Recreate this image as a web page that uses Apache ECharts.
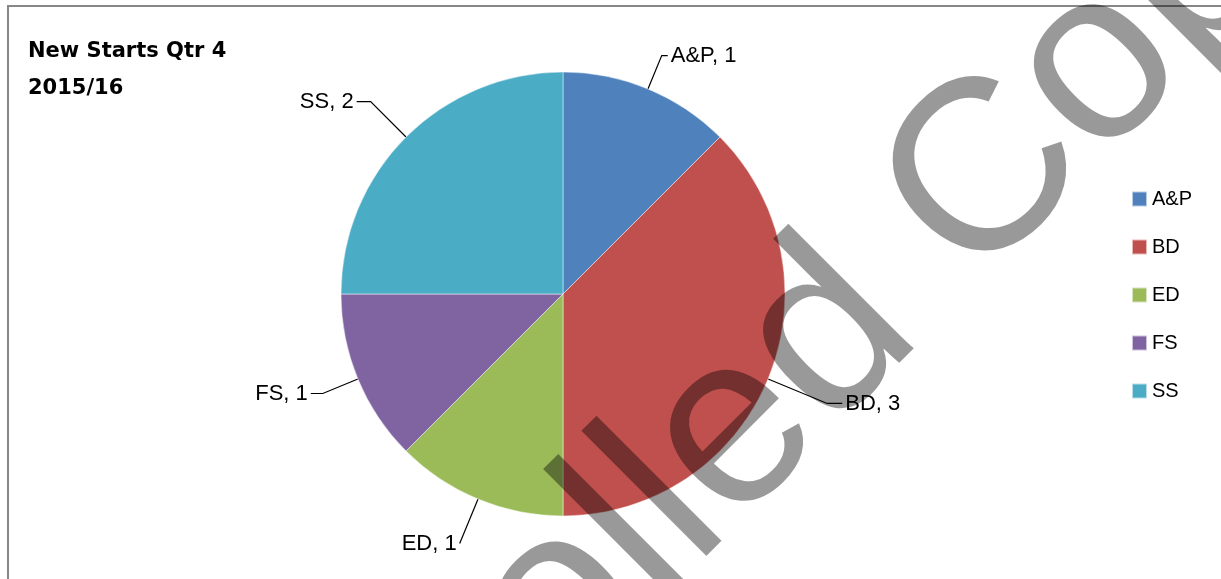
<!DOCTYPE html>
<html>
<head>
<meta charset="utf-8">
<script src="https://cdn.jsdelivr.net/npm/echarts@6/dist/echarts.min.js"></script>
<style>
html,body{margin:0;padding:0;background:#fff;}
#chart{width:1221px;height:579px;}
</style>
</head>
<body>
<div id="chart"></div>
<script>
const titleText = 'New Starts Qtr 4\n2015/16';
const categories = ['A&P', 'BD', 'ED', 'FS', 'SS'];
const values = [1, 3, 1, 1, 2];
const watermarkText = 'Controlled Copy';

const sliceColors = ['#4F81BD', '#C0504D', '#9BBB59', '#8064A2', '#4BACC6'];
const leaderLen = [36, 64, 48, 38, 50];
const leaderLen2 = [6, 15, 0, 12, 14];

const FONT = '"Liberation Sans", Arial, sans-serif';

const chart = echarts.init(document.getElementById('chart'), null, {renderer: 'canvas'});

const pieData = categories.map((name, i) => ({
  name: name,
  value: values[i],
  itemStyle: {color: sliceColors[i]},
  labelLine: {length: leaderLen[i], length2: leaderLen2[i]}
}));

const wmSize = 244;
const wmRot = Math.PI / 4;

const option = {
  backgroundColor: '#ffffff',
  animation: false,
  title: {
    text: titleText,
    left: 28,
    top: 33,
    padding: 0,
    textStyle: {fontFamily: '"DejaVu Sans", sans-serif', fontSize: 21, fontWeight: 'bold', lineHeight: 37, color: '#000'}
  },
  legend: {
    orient: 'vertical',
    left: 1131,
    top: 189,
    padding: 0,
    itemWidth: 15,
    itemHeight: 15,
    itemGap: 28,
    icon: 'rect',
    data: categories,
    textStyle: {fontFamily: FONT, fontSize: 20, lineHeight: 20, color: '#000'}
  },
  series: [{
    type: 'pie',
    center: [563, 294],
    radius: 222,
    startAngle: 90,
    clockwise: true,
    avoidLabelOverlap: false,
    itemStyle: {borderColor: 'rgba(255,255,255,0.6)', borderWidth: 0.8},
    label: {
      show: true,
      position: 'outside',
      formatter: '{b}, {c}',
      fontFamily: FONT,
      fontSize: 22,
      color: '#000',
      distanceToLabelLine: 3
    },
    labelLine: {show: true, lineStyle: {color: '#000', width: 1.2}},
    emphasis: {disabled: true},
    data: pieData
  }],
  graphic: [
    {
      type: 'rect',
      silent: true,
      z: 50,
      shape: {x: 8, y: 6, width: 1400, height: 800},
      style: {fill: 'none', stroke: '#878787', lineWidth: 2}
    },
    {
      type: 'text',
      silent: true,
      z: 100,
      x: 91,
      y: 1076,
      rotation: wmRot,
      style: {
        text: watermarkText,
        font: wmSize + 'px ' + FONT,
        fill: 'rgba(0,0,0,0.4)',
        align: 'left',
        verticalAlign: 'middle'
      }
    }
  ]
};
chart.setOption(option);
</script>
</body>
</html>
